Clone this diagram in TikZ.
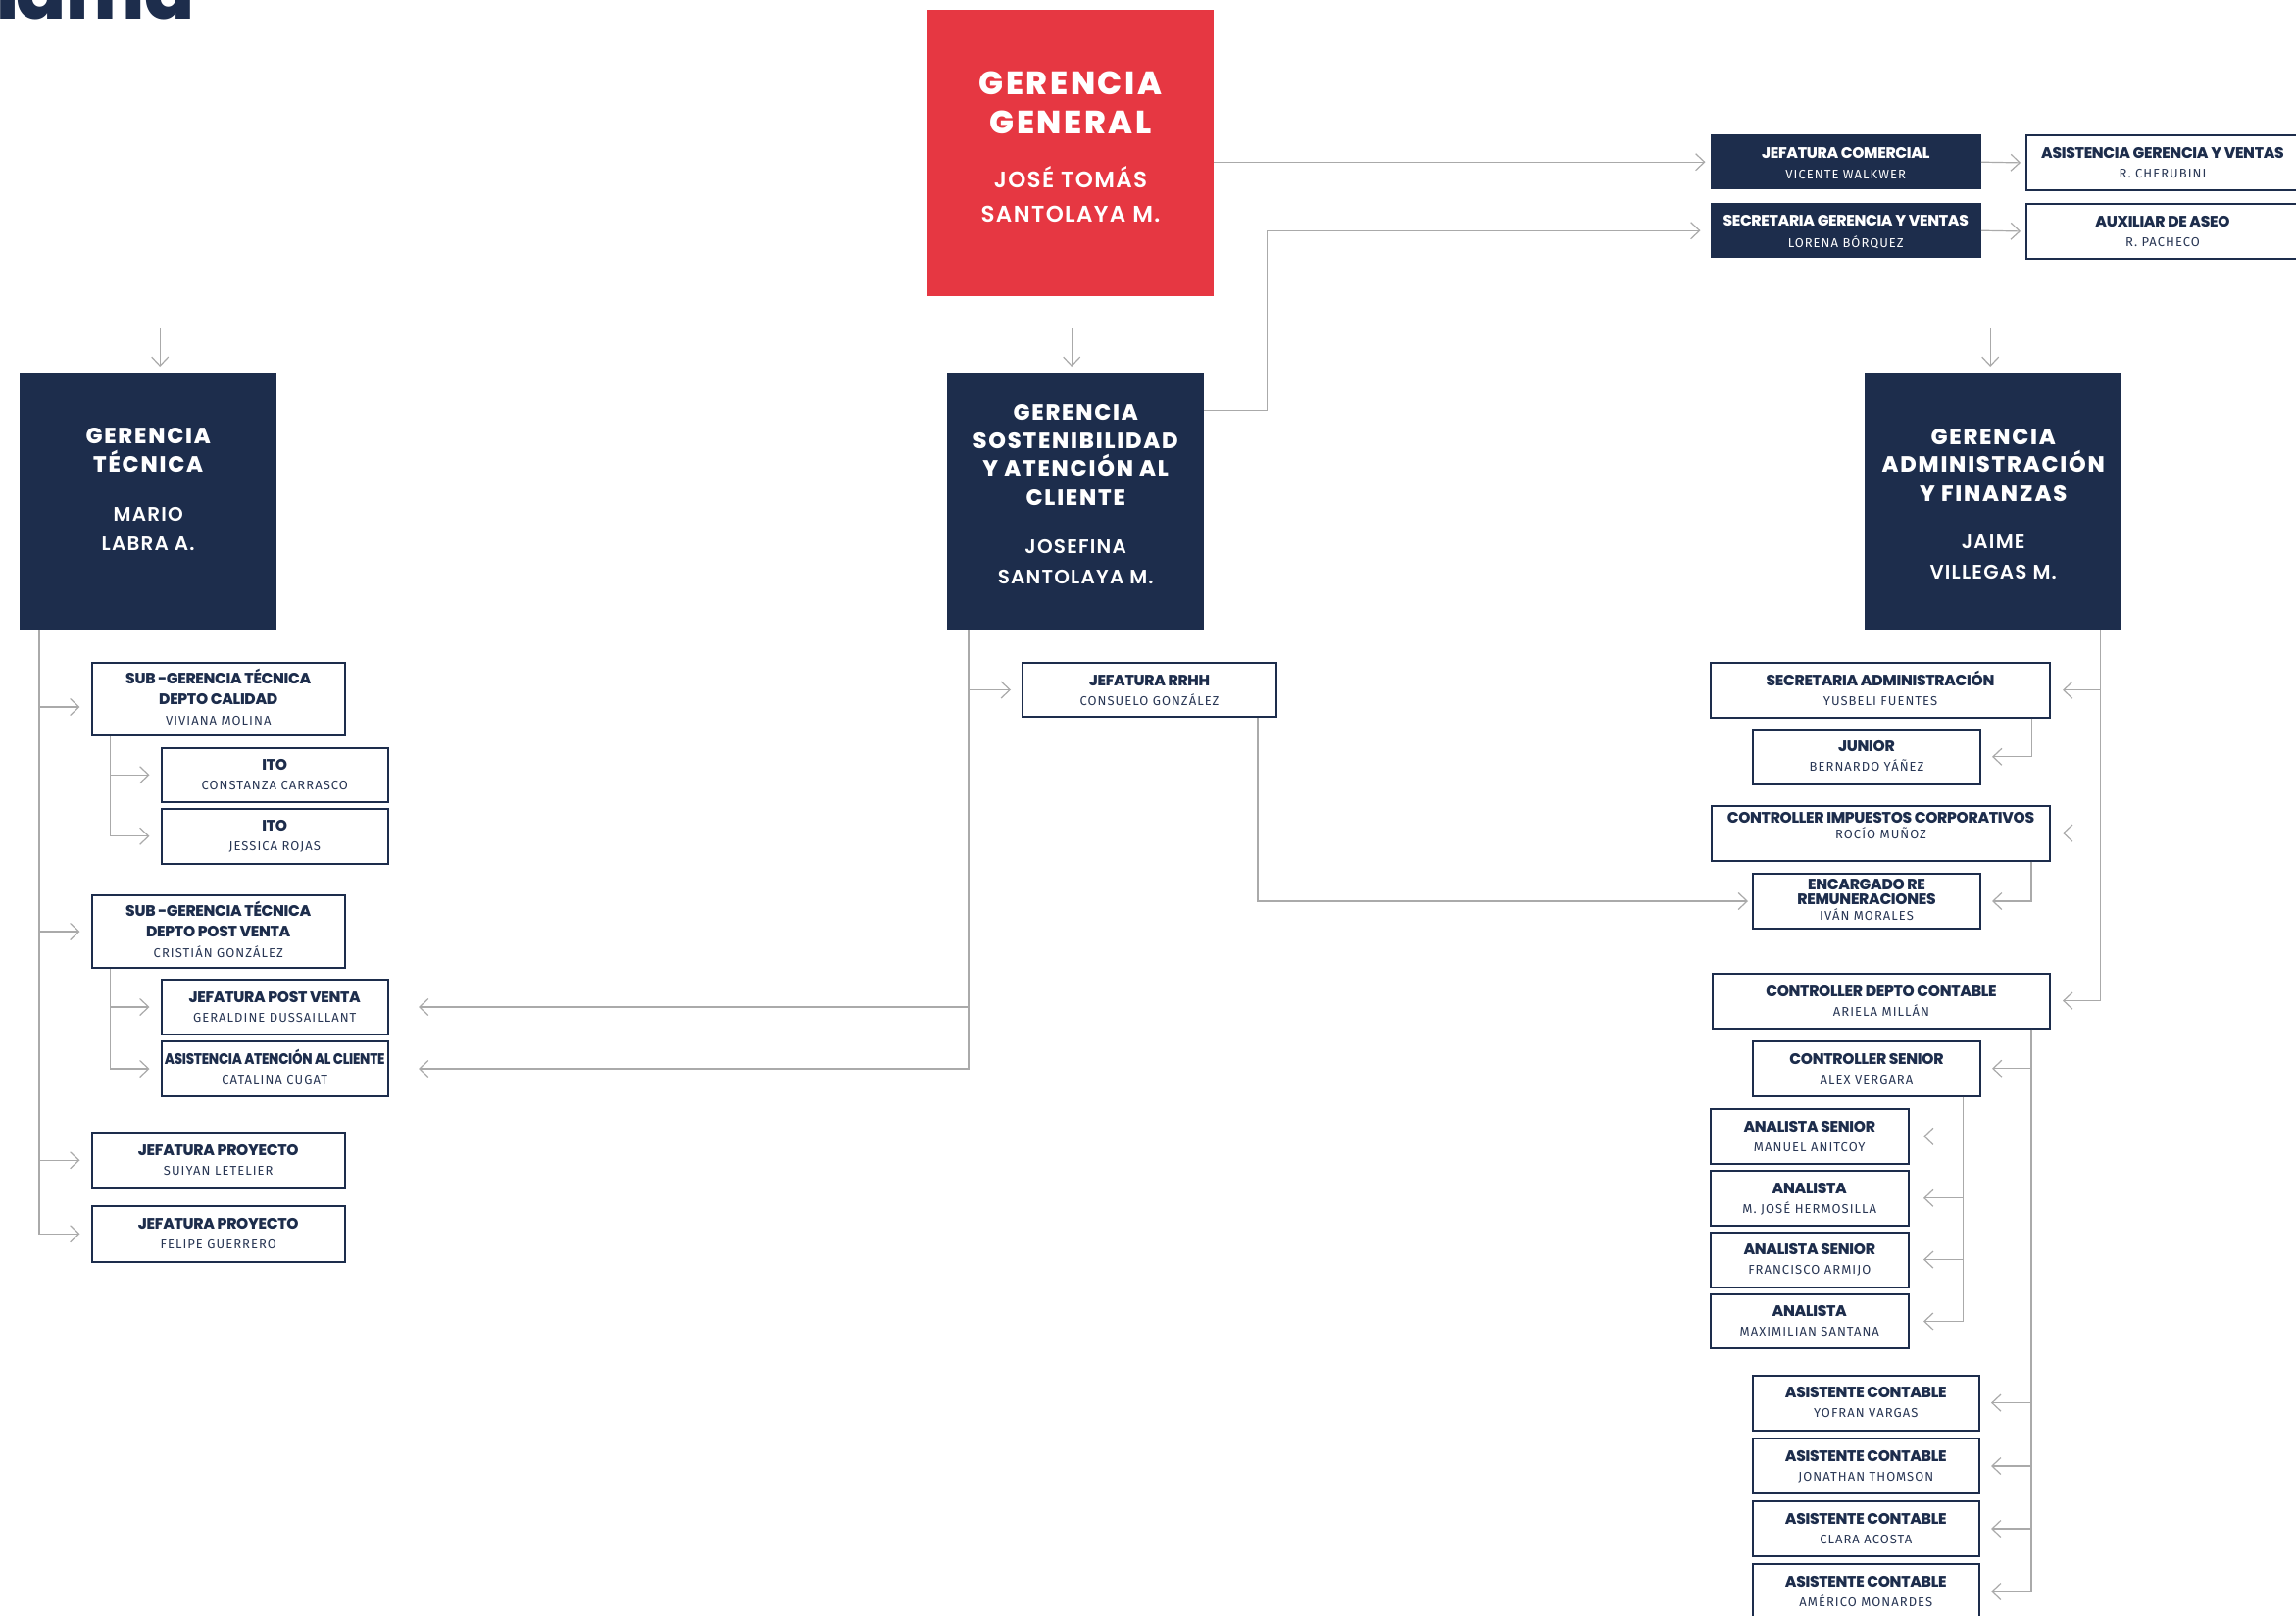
\documentclass[tikz,border=0pt]{standalone}
\usepackage{fontspec}
\usepackage{graphicx}
\usetikzlibrary{arrows.meta}
\newfontfamily\hdfont{Poppins ExtraBold}[LetterSpace=8]
\newfontfamily\hnfont{Poppins SemiBold}[LetterSpace=6]
\newfontfamily\ttfont{Poppins ExtraBold}[LetterSpace=-2]
\newfontfamily\nmfont{Fira Sans}[LetterSpace=8]
\newfontfamily\bigfont{Poppins ExtraBold}
\definecolor{navy}{HTML}{1D2D4C}
\definecolor{redbox}{HTML}{E63742}
\definecolor{lgray}{HTML}{AAAAAA}
\definecolor{nmcol}{HTML}{283654}
\tikzset{
  nbx/.style={fill=navy, draw=none, anchor=north west, inner sep=0pt},
  rbx/.style={fill=redbox, draw=none, anchor=north west, inner sep=0pt},
  wbx/.style={fill=white, draw=navy, line width=2pt, anchor=north west, inner sep=0pt},
  ln/.style={draw=lgray, line width=1.2pt},
  cn/.style={ln, -{Straight Barb[length=9pt,width=17pt,line width=1.2pt]}},
  ttl/.style={font=\ttfont\fontsize{15.5}{15.5}\selectfont, text=navy, inner sep=0pt, anchor=base},
  nm/.style={font=\nmfont\fontsize{13}{13}\selectfont, text=nmcol, inner sep=0pt, anchor=base},
  ttlw/.style={ttl, text=white},
  nmw/.style={nm, text=white},
  hd/.style={font=\hdfont\fontsize{22.5}{22.5}\selectfont, text=white, inner sep=0pt, anchor=base},
  hn/.style={font=\hnfont\fontsize{20}{20}\selectfont, text=white, inner sep=0pt, anchor=base},
  rhd/.style={font=\hdfont\fontsize{33}{33}\selectfont, text=white, inner sep=0pt, anchor=base},
  rhn/.style={font=\hnfont\fontsize{23}{23}\selectfont, text=white, inner sep=0pt, anchor=base},
}
\newcommand\tx[5]{\node[#1] (#2#3) at ([yshift=-#4pt]#2.north) {#5};}
% white two-line box: name, x, y, w, h, title, person
\newcommand\wtwo[7]{%
  \node[wbx, minimum width=#4pt, minimum height=#5pt] (#1) at (#2,#3) {};
  \tx{ttl}{#1}{a}{24.3}{#6}
  \tx{nm}{#1}{b}{44.3}{#7}}
\begin{document}
\begin{tikzpicture}[x=1pt,y=-1pt]
\useasboundingbox (0,0) rectangle (2342,1647);
\clip (0,0) rectangle (2342,1647);
\fill[white] (0,0) rectangle (2342,1647);

% title (cut off)
\node[font=\bigfont\fontsize{75}{75}\selectfont, text=navy, inner sep=0pt, anchor=base east] (maintitle) at (199,19) {r\kern-13pt ama};

% ---------- top level ----------
\node[rbx, minimum width=292.5pt, minimum height=292pt] (GG) at (945.5,10) {};
\tx{rhd}{GG}{a}{86.7}{GERENCIA}
\tx{rhd}{GG}{b}{126.7}{GENERAL}
\tx{rhn}{GG}{c}{181.7}{JOSÉ TOMÁS}
\tx{rhn}{GG}{d}{216}{SANTOLAYA M.}

\node[nbx, minimum width=276pt, minimum height=56pt] (JC) at (1744.5,137) {};
\tx{ttlw}{JC}{a}{24.3}{JEFATURA COMERCIAL}
\tx{nmw}{JC}{b}{45}{VICENTE WALKWER}
\node[nbx, minimum width=276pt, minimum height=56pt] (SGV) at (1744.5,207) {};
\tx{ttlw}{SGV}{a}{23.5}{SECRETARIA GERENCIA Y VENTAS}
\tx{nmw}{SGV}{b}{45}{LORENA BÓRQUEZ}

\wtwo{AGV}{2066}{137}{278}{56}{ASISTENCIA GERENCIA Y VENTAS}{R. CHERUBINI}
\wtwo{AUX}{2066}{207}{278}{56}{AUXILIAR DE ASEO}{R. PACHECO}

% ---------- gerencias ----------
\node[nbx, minimum width=262pt, minimum height=262pt] (GT) at (20,380) {};
\tx{hd}{GT}{a}{72.5}{GERENCIA}
\tx{hd}{GT}{b}{101.5}{TÉCNICA}
\tx{hn}{GT}{c}{151}{MARIO}
\tx{hn}{GT}{d}{181.5}{LABRA A.}

\node[nbx, minimum width=262pt, minimum height=262pt] (GS) at (966,380) {};
\tx{hd}{GS}{a}{48.3}{GERENCIA}
\tx{hd}{GS}{b}{77.3}{SOSTENIBILIDAD}
\tx{hd}{GS}{c}{105.5}{Y ATENCIÓN AL}
\tx{hd}{GS}{d}{135}{CLIENTE}
\tx{hn}{GS}{e}{184}{JOSEFINA}
\tx{hn}{GS}{f}{215}{SANTOLAYA M.}

\node[nbx, minimum width=262pt, minimum height=262pt] (GAF) at (1902,380) {};
\tx{hd}{GAF}{a}{73}{GERENCIA}
\tx{hd}{GAF}{b}{101.5}{ADMINISTRACIÓN}
\tx{hd}{GAF}{c}{131}{Y FINANZAS}
\tx{hn}{GAF}{d}{179.5}{JAIME}
\tx{hn}{GAF}{e}{210}{VILLEGAS M.}

% ---------- técnica ----------
\node[wbx, minimum width=258.5pt, minimum height=74pt] (SC) at (92.5,675) {};
\tx{ttl}{SC}{a}{22.7}{SUB -GERENCIA TÉCNICA}
\tx{ttl}{SC}{b}{43.3}{DEPTO CALIDAD}
\tx{nm}{SC}{c}{64}{VIVIANA MOLINA}
\wtwo{ITOa}{163.5}{761.5}{231.5}{55.5}{ITO}{CONSTANZA CARRASCO}
\wtwo{ITOb}{163.5}{823.5}{231.5}{56.5}{ITO}{JESSICA ROJAS}
\node[wbx, minimum width=258.5pt, minimum height=74pt] (SP) at (92.5,912) {};
\tx{ttl}{SP}{a}{22.7}{SUB -GERENCIA TÉCNICA}
\tx{ttl}{SP}{b}{43.3}{DEPTO POST VENTA}
\tx{nm}{SP}{c}{64}{CRISTIÁN GONZÁLEZ}
\wtwo{JPV}{163.5}{998}{231.5}{56}{JEFATURA POST VENTA}{GERALDINE DUSSAILLANT}
\wtwo{AAC}{163.5}{1061}{231.5}{56}{\scalebox{0.87}[1]{ASISTENCIA ATENCIÓN AL CLIENTE}}{CATALINA CUGAT}
\wtwo{JPa}{92.5}{1154}{258.5}{56.5}{JEFATURA PROYECTO}{SUIYAN LETELIER}
\wtwo{JPb}{92.5}{1229}{258.5}{56.5}{JEFATURA PROYECTO}{FELIPE GUERRERO}

% ---------- sostenibilidad ----------
\wtwo{RRHH}{1042}{675}{259}{55}{JEFATURA RRHH}{CONSUELO GONZÁLEZ}

% ---------- administración ----------
\wtwo{SA}{1744}{675}{346}{55.5}{SECRETARIA ADMINISTRACIÓN}{YUSBELI FUENTES}
\wtwo{JUN}{1787}{742.6}{232}{56.4}{JUNIOR}{BERNARDO YÁÑEZ}
\node[wbx, minimum width=345pt, minimum height=55.8pt] (CI) at (1745,820.7) {};
\tx{ttl}{CI}{a}{18.3}{CONTROLLER IMPUESTOS CORPORATIVOS}
\tx{nm}{CI}{b}{34.3}{ROCÍO MUÑOZ}
\node[wbx, minimum width=232pt, minimum height=56pt] (ENC) at (1787,890) {};
\tx{ttl}{ENC}{a}{17.5}{ENCARGADO RE}
\tx{ttl}{ENC}{b}{32.5}{REMUNERACIONES}
\tx{nm}{ENC}{c}{48}{IVÁN MORALES}
\wtwo{CDC}{1746}{991.7}{344}{55.8}{CONTROLLER DEPTO CONTABLE}{ARIELA MILLÁN}
\wtwo{CS}{1787}{1060.7}{232}{56}{CONTROLLER SENIOR}{ALEX VERGARA}
\wtwo{ANa}{1743.5}{1130}{202.5}{55.7}{ANALISTA SENIOR}{MANUEL ANITCOY}
\wtwo{ANb}{1743.5}{1192.7}{202.5}{56.2}{ANALISTA}{M. JOSÉ HERMOSILLA}
\wtwo{ANc}{1743.5}{1255.5}{202.5}{56.1}{ANALISTA SENIOR}{FRANCISCO ARMIJO}
\wtwo{ANd}{1743.5}{1318.6}{202.5}{55.7}{ANALISTA}{MAXIMILIAN SANTANA}
\wtwo{ACa}{1786.5}{1401.6}{231.5}{56}{ASISTENTE CONTABLE}{YOFRAN VARGAS}
\wtwo{ACb}{1786.5}{1466}{231.5}{56}{ASISTENTE CONTABLE}{JONATHAN THOMSON}
\wtwo{ACc}{1786.5}{1530}{231.5}{56}{ASISTENTE CONTABLE}{CLARA ACOSTA}
\wtwo{ACd}{1786.5}{1594}{231.5}{56}{ASISTENTE CONTABLE}{AMÉRICO MONARDES}

% ---------- connectors: top ----------
\draw[cn, shorten >=5pt] (GG.east |- JC.west) -- (JC.west);
\draw[cn, shorten >=5pt] (JC.east) -- (AGV.west);
\draw[cn, shorten >=5pt] (SGV.east) -- (AUX.west);
\coordinate (gsout) at ([yshift=93pt]GS.east);
\draw[cn, shorten >=10pt] (gsout) -- ++(64,0) |- (SGV.west);

\coordinate (bus) at (0,334.6);
\coordinate (gtin) at ([xshift=12pt]GT.north);
\coordinate (gsin) at ([xshift=-4pt]GS.north);
\coordinate (gafin) at ([xshift=-3pt]GAF.north);
\draw[ln] (gtin |- bus) -- (gafin |- bus);
\draw[cn, shorten >=6pt] (gtin |- bus) -- (gtin);
\draw[cn, shorten >=6pt] (gsin |- bus) -- (gsin);
\draw[cn, shorten >=6pt] (gafin |- bus) -- (gafin);

% ---------- técnica ----------
\coordinate (gtx) at ([xshift=20pt]GT.south west);
\coordinate (scin) at ([yshift=-8pt]SC.west);
\draw[cn, shorten >=11pt] (gtx) |- (JPb.west);
\draw[cn, shorten >=11pt] (gtx |- scin) -- (scin);
\draw[cn, shorten >=11pt] (gtx |- SP.west) -- (SP.west);
\draw[cn, shorten >=11pt] (gtx |- JPa.west) -- (JPa.west);
\coordinate (scx) at ([xshift=20pt]SC.south west);
\draw[cn, shorten >=11pt] (scx) |- (ITOb.west);
\draw[cn, shorten >=11pt] (scx |- ITOa.west) -- (ITOa.west);
\coordinate (spx) at ([xshift=20pt]SP.south west);
\draw[cn, shorten >=11pt] (spx) |- (AAC.west);
\draw[cn, shorten >=11pt] (spx |- JPV.west) -- (JPV.west);

% ---------- sostenibilidad ----------
\coordinate (gsx) at ([xshift=22pt]GS.south west);
\draw[cn, shorten >=30pt] (gsx) |- (AAC.east);
\draw[cn, shorten >=30pt] (gsx |- JPV.east) -- (JPV.east);
\draw[cn, shorten >=11pt] (gsx |- RRHH.west) -- (RRHH.west);
\coordinate (rrx) at ([xshift=-20pt]RRHH.south east);
\draw[cn, shorten >=4pt] (rrx) |- (ENC.west);

% ---------- administración ----------
\coordinate (gafx) at ([xshift=-22pt]GAF.south east);
\draw[cn, shorten >=12pt] (gafx) |- (CDC.east);
\draw[cn, shorten >=12pt] (gafx |- SA.east) -- (SA.east);
\draw[cn, shorten >=12pt] (gafx |- CI.east) -- (CI.east);
\coordinate (sax) at ([xshift=-19.5pt]SA.south east);
\draw[cn, shorten >=11pt] (sax) |- (JUN.east);
\coordinate (cix) at ([xshift=-20pt]CI.south east);
\draw[cn, shorten >=11pt] (cix) |- (ENC.east);
\coordinate (cdx) at ([xshift=-20pt]CDC.south east);
\draw[cn, shorten >=11pt] (cdx) |- (ACd.east);
\draw[cn, shorten >=11pt] (cdx |- CS.east) -- (CS.east);
\draw[cn, shorten >=11pt] (cdx |- ACa.east) -- (ACa.east);
\draw[cn, shorten >=11pt] (cdx |- ACb.east) -- (ACb.east);
\draw[cn, shorten >=11pt] (cdx |- ACc.east) -- (ACc.east);
\coordinate (csx) at ([xshift=-18.5pt]CS.south east);
\draw[cn, shorten >=14pt] (csx) |- (ANd.east);
\draw[cn, shorten >=14pt] (csx |- ANa.east) -- (ANa.east);
\draw[cn, shorten >=14pt] (csx |- ANb.east) -- (ANb.east);
\draw[cn, shorten >=14pt] (csx |- ANc.east) -- (ANc.east);
\end{tikzpicture}
\end{document}
